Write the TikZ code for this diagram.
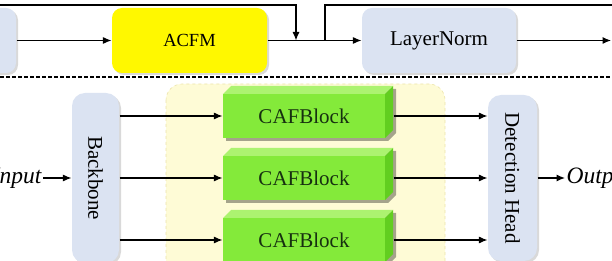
\documentclass[tikz,border=0pt]{standalone}
\usepackage{fontspec}
\setmainfont{Liberation Serif}
\usetikzlibrary{arrows.meta,shadows,positioning}
\definecolor{paleblue}{RGB}{219,227,242}
\definecolor{acfmyellow}{RGB}{255,248,0}
\definecolor{regionyellow}{RGB}{254,251,214}
\definecolor{regionedge}{RGB}{236,228,170}
\definecolor{cafgreen}{RGB}{132,234,58}
\definecolor{caftop}{RGB}{172,243,112}
\definecolor{cafside}{RGB}{98,206,32}
\definecolor{caftext}{RGB}{22,48,16}

\begin{document}
\begin{tikzpicture}[x=1pt, y=-1pt, >={Latex[length=8.5pt,width=7pt]}, line width=1.1pt,
    softshadow/.style={drop shadow={opacity=0.3, shadow xshift=2pt, shadow yshift=-2pt}},
    topbox/.style={rounded corners=10pt, minimum width=155pt, minimum height=65pt, inner sep=0pt, softshadow},
    tallbox/.style={fill=paleblue, rounded corners=13pt, minimum height=170pt, inner sep=0pt, font=\fontsize{21}{24}\selectfont, softshadow},
    cafbox/.style={fill=cafgreen, minimum width=162pt, minimum height=44pt, inner sep=0pt, text=caftext, font=\fontsize{21}{24}\selectfont},
    ionode/.style={inner sep=1pt, font=\fontsize{23.5}{27}\selectfont\itshape}]
    \useasboundingbox (0,0) rectangle (612,261);
    \clip (0,0) rectangle (612,261);

    % upper branch
    \node[topbox, fill=paleblue, minimum width=56pt] (prev) at (-12,40.5) {};
    \node[topbox, fill=acfmyellow, font=\fontsize{18.5}{20}\selectfont] (acfm) at (189.5,40.5) {ACFM};
    \node[topbox, fill=paleblue, minimum width=154pt, font=\fontsize{21}{24}\selectfont] (ln) at (439,40.5) {LayerNorm};
    \coordinate (merge) at (296,40.5); \coordinate (split) at (325,40.5);
    \coordinate (resin) at (-5,5); \coordinate (resout) at (620,5); \coordinate (next) at (611,40.5);
    \draw[->] (prev) -- (acfm);
    \draw[->] (acfm) -- (ln);
    \draw[->] (resin) -| (merge);
    \draw (split) |- (resout);
    \draw[->] (ln) -- (next);

    \draw[line width=1.7pt, dash pattern=on 3.5pt off 2.5pt] (0,77) -- (612,77);

    % lower branch
    \fill[regionyellow, draw=regionedge, line width=0.6pt, dashed, rounded corners=16pt] (166,84) rectangle (445,300);
    \node[tallbox, minimum width=47pt] (backbone) at (95.5,178) {\rotatebox{-90}{Backbone}};
    \node[tallbox, minimum width=49pt, minimum height=166pt] (head) at (512.5,178) {\rotatebox{-90}{Detection Head}};
    \foreach \i/\y in {1/116,2/178,3/240} {
        \fill[black, opacity=0.35] (226,\y-19) -- ++(8,-8) -- ++(162,0) -- ++(0,44) -- ++(-8,8) -- ++(-162,0) -- cycle;
        \fill[caftop] (223,\y-22) -- ++(8,-8) -- ++(162,0) -- ++(-8,8) -- cycle;
        \fill[cafside] (385,\y-22) -- ++(8,-8) -- ++(0,44) -- ++(-8,8) -- cycle;
        \node[cafbox] (caf\i) at (304,\y) {CAFBlock};
    }
    \foreach \i in {1,2,3} {
        \draw[->] (backbone.east |- caf\i) -- (caf\i.west);
        \draw[->] ([xshift=8pt]caf\i.east) -- (head.west |- caf\i);
    }
    \node[ionode, anchor=east] (input) at (43,178) {Input};
    \node[ionode, anchor=west] (output) at (565,178) {Output};
    \draw[->] (input) -- (backbone);
    \draw[->] (head) -- (output);
\end{tikzpicture}
\end{document}
